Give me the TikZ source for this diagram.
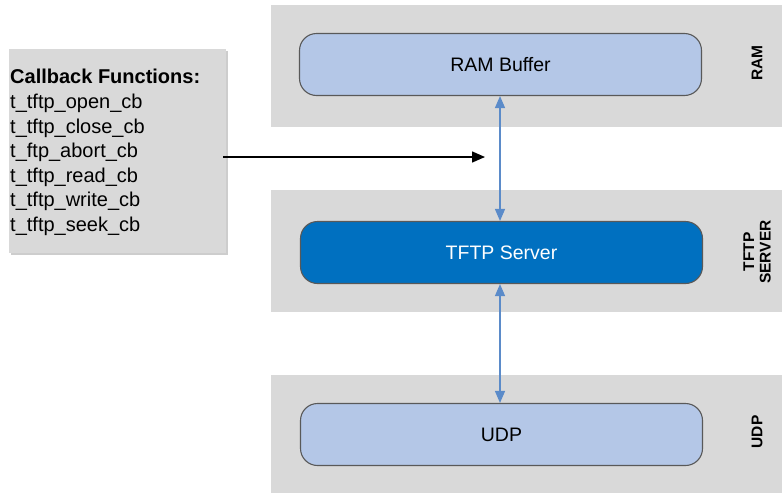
\documentclass[tikz,border=0pt]{standalone}
\usepackage{fontspec}
\setmainfont{Liberation Sans}
\usetikzlibrary{arrows.meta}
\definecolor{bandgray}{HTML}{D9D9D9}
\definecolor{shadowgray}{HTML}{CDCDCD}
\definecolor{lightblue}{HTML}{B4C7E7}
\definecolor{darkblue}{HTML}{0070C0}
\definecolor{edgegray}{HTML}{595959}
\definecolor{linkblue}{HTML}{5B8BC9}
\tikzset{
  band/.style={fill=bandgray, draw=none, inner sep=0pt, minimum width=511pt},
  layerbox/.style={draw=edgegray, line width=1.1pt, rounded corners=17pt,
    minimum width=402pt, minimum height=62pt, inner sep=0pt,
    font=\fontsize{19.5}{22}\selectfont},
  ramstyle/.style={layerbox, fill=lightblue},
  srvstyle/.style={layerbox, fill=darkblue, text=white},
  bandlabel/.style={rotate=90, font=\bfseries\fontsize{15.5}{16.5}\selectfont, align=center, inner sep=0pt},
  link/.style={draw=linkblue, line width=1.3pt, {Triangle[length=12pt,width=10pt]}-{Triangle[length=12pt,width=10pt]}},
  callarrow/.style={draw=black, line width=1.4pt, -{Triangle[length=13pt,width=11pt]}}
}
\begin{document}
\begin{tikzpicture}[x=1pt, y=-1pt]
  \useasboundingbox (0,0) rectangle (782,493);
  \fill[white] (0,0) rectangle (782,493);

  % layer bands
  \node[band, minimum height=122pt] (bandram) at (526.5,66) {};
  \node[band, minimum height=122pt] (bandsrv) at (526.5,251) {};
  \node[band, minimum height=118pt] (bandudp) at (526.5,434) {};

  % layer names
  \node[bandlabel] (lblram) at (757,63) {RAM};
  \node[bandlabel] (lblsrv) at (757,252) {TFTP\\SERVER};
  \node[bandlabel] (lbludp) at (757,432) {UDP};

  % layer boxes
  \node[ramstyle] (ram) at (500.5,64.5) {RAM Buffer};
  \node[srvstyle] (srv) at (501.5,252.5) {TFTP Server};
  \node[ramstyle] (udp) at (501.5,434.5) {UDP};

  % callback list
  \fill[shadowgray] (11,51) rectangle (228,255);
  \node[fill=bandgray, inner sep=0pt, minimum width=217pt, minimum height=204pt] (cb) at (117.5,151) {};
  \node[anchor=base west, inner sep=0pt, align=left, font=\fontsize{20}{24.6}\selectfont] (cbtext) at (10,231.5)
    {\textbf{Callback Functions:}\\
     t\_tftp\_open\_cb\\
     t\_tftp\_close\_cb\\
     t\_ftp\_abort\_cb\\
     t\_tftp\_read\_cb\\
     t\_tftp\_write\_cb\\
     t\_tftp\_seek\_cb};

  % connectors
  \coordinate (cbtip) at (485,157);
  \draw[callarrow] ([yshift=-6pt,xshift=-3pt]cb.east) -- (cbtip);
  \draw[link] (ram.south -| 500,0) -- (srv.north -| 500,0);
  \draw[link] (srv.south -| 500,0) -- (udp.north -| 500,0);
\end{tikzpicture}
\end{document}
